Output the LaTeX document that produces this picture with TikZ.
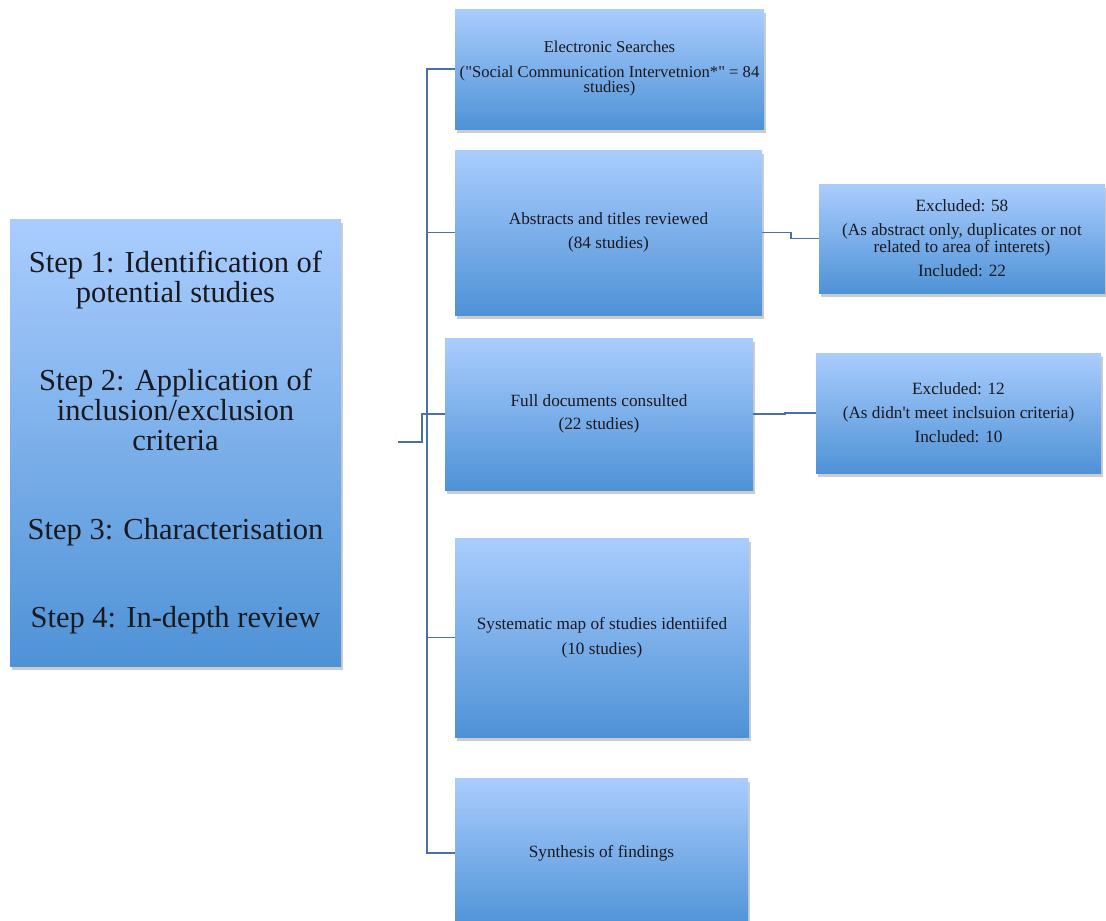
\documentclass[tikz,border=0pt]{standalone}
\usepackage{fontspec}
\setmainfont{Liberation Serif}[Ligatures=TeXOff]
\usetikzlibrary{shadows}

\definecolor{boxtop}{RGB}{170,205,254}
\definecolor{boxbottom}{RGB}{78,146,214}
\definecolor{linkblue}{RGB}{74,113,165}
\definecolor{inkgray}{RGB}{25,25,30}

\tikzset{
  stage/.style={rectangle, draw=none, top color=boxtop, bottom color=boxbottom,
    align=center, text=inkgray, inner sep=0pt,
    drop shadow={opacity=0.4, shadow xshift=2pt, shadow yshift=-3.5pt},
    font=\fontsize{17.2}{15.5}\selectfont},
  link/.style={draw=linkblue, line width=1.8pt}
}

\begin{document}
\begin{tikzpicture}[x=1pt, y=-1pt]
    \useasboundingbox (0,0) rectangle (1106,921);

    % the four steps
    \node[stage, minimum width=331pt, minimum height=447pt,
          font=\fontsize{30.5}{30}\selectfont] (steps) at (175.5,442.5)
        {Step 1: Identification of\\ potential studies\\[58pt]
         Step 2: Application of\\ inclusion/exclusion\\ criteria\\[59pt]
         Step 3: Characterisation\\[58pt]
         Step 4: In-depth review};

    % stages of the review
    \node[stage, minimum width=309pt, minimum height=120pt,
          font=\fontsize{16.6}{15.5}\selectfont] (search) at (609.5,69)
        {Electronic Searches\\[9pt] ("Social Communication Intervetnion*" = 84\\ studies)};
    \node[stage, minimum width=307pt, minimum height=165pt] (abstracts) at (608.5,232.5)
        {Abstracts and titles reviewed\\[8pt] (84 studies)};
    \node[stage, minimum width=308pt, minimum height=152pt] (fulldocs) at (599,414)
        {Full documents consulted\\[8pt] (22 studies)};
    \node[stage, minimum width=294pt, minimum height=199pt] (sysmap) at (602,637.5)
        {Systematic map of studies identiifed\\[8pt] (10 studies)};
    \node[stage, minimum width=293pt, minimum height=150pt] (synthesis) at (601.5,853)
        {Synthesis of findings};

    % exclusions
    \node[stage, minimum width=286pt, minimum height=109pt] (excl58) at (962,238.5)
        {Excluded: 58\\[8pt] (As abstract only, duplicates or not\\ related to area of interets)\\[8pt] Included: 22};
    \node[stage, minimum width=285pt, minimum height=120pt] (excl12) at (958.5,413)
        {Excluded: 12\\[8pt] (As didn't meet inclsuion criteria)\\[8pt] Included: 10};

    % trunk
    \coordinate (ttop) at (427,69);
    \coordinate (tbot) at (synthesis.west -| ttop);
    \coordinate (stub) at (398,442);

    \draw[link] (search.west) -- (ttop) -- (tbot) -- (synthesis.west);
    \draw[link] (abstracts.west) -- (abstracts.west -| ttop);
    \draw[link] (sysmap.west) -- (sysmap.west -| ttop);
    \draw[link] (fulldocs.west) -- ++(-23,0) |- (stub);

    % side branches
    \draw[link] (abstracts.east) -- ++(29,0) |- (excl58.west);
    \draw[link] (fulldocs.east) -- ++(32,0) |- (excl12.west);
\end{tikzpicture}
\end{document}
